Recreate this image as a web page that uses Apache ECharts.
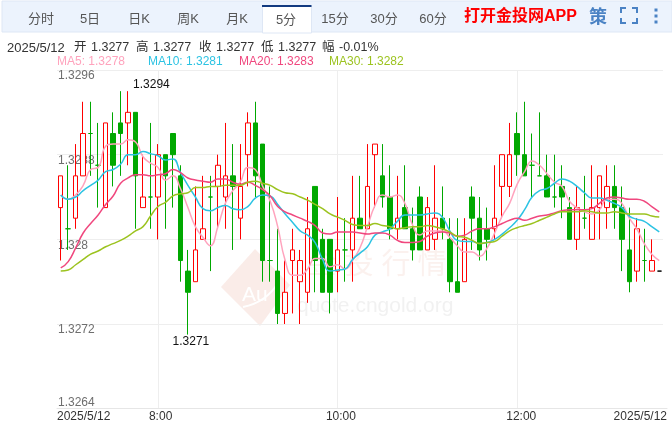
<!DOCTYPE html>
<html><head><meta charset="utf-8">
<style>html,body{margin:0;padding:0;background:#fff}#c{width:672px;height:423px}</style>
<script src="https://cdn.jsdelivr.net/npm/echarts@6/dist/echarts.min.js"></script>
</head><body><div id="c"></div>
<script>
const opens=[1.3283,1.3281,1.3282,1.3286,1.3290,1.3287,1.3283,1.3290,1.3291,1.3291,
1.3292,1.3283,1.3284,1.3284,1.3288,1.3290,1.3286,1.3277,1.3276,1.3280,
1.3284,1.3285,1.3284,1.3286,1.3282,1.3288,1.3291,1.3289,1.3278,1.3277,
1.3273,1.3278,1.3276,1.3275,1.3285,1.3280,1.3280,1.3277,1.3279,1.3279,
1.3282,1.3281,1.3288,1.3286,1.3284,1.3281,1.3283,1.3281,1.3284,1.3279,
1.3280,1.3282,1.3280,1.3276,1.3276,1.3284,1.3282,1.3281,1.3281,1.3285,
1.3285,1.3290,1.3288,1.3287,1.3286,1.3286,1.3284,1.3285,1.3283,1.3280,
1.3282,1.3280,1.3283,1.3283,1.3285,1.3283,1.3279,1.3277,1.3278,1.3277,1.3277];
const closes=[1.3286,1.3281,1.3286,1.3290,1.3290,1.3287,1.3291,1.3287,1.3290,1.3292,
1.3286,1.3284,1.3284,1.3288,1.3286,1.3288,1.3278,1.3275,1.3279,1.3281,
1.3284,1.3287,1.3286,1.3285,1.3285,1.3291,1.3286,1.3278,1.3278,1.3273,
1.3275,1.3279,1.3278,1.3281,1.3278,1.3275,1.3275,1.3279,1.3279,1.3282,
1.3281,1.3285,1.3289,1.3284,1.3281,1.3282,1.3281,1.3279,1.3279,1.3283,
1.3282,1.3281,1.3276,1.3275,1.3280,1.3282,1.3279,1.3280,1.3282,1.3288,
1.3288,1.3288,1.3286,1.3287,1.3286,1.3284,1.3284,1.3284,1.3280,1.3283,
1.3282,1.3283,1.3286,1.3285,1.3283,1.3280,1.3276,1.3281,1.3278,1.3278,1.3277];
const lows=[1.3278,1.3279,1.3281,1.3286,1.3286,1.3283,1.3283,1.3285,1.3286,1.3287,
1.3281,1.3283,1.3281,1.3280,1.3281,1.3283,1.3276,1.3271,1.3276,1.3280,
1.3277,1.3281,1.3281,1.3279,1.3280,1.3285,1.3284,1.3276,1.3276,1.3272,
1.3272,1.3273,1.3272,1.3274,1.3275,1.3275,1.3273,1.3275,1.3276,1.3276,
1.3281,1.3281,1.3283,1.3283,1.3280,1.3280,1.3281,1.3278,1.3279,1.3279,
1.3279,1.3280,1.3275,1.3275,1.3276,1.3279,1.3278,1.3278,1.3280,1.3282,
1.3284,1.3286,1.3286,1.3284,1.3286,1.3284,1.3283,1.3282,1.3280,1.3279,
1.3281,1.3280,1.3280,1.3281,1.3281,1.3277,1.3275,1.3276,1.3276,1.3277,1.3277];
const highs=[1.3286,1.3287,1.3289,1.3293,1.3293,1.3291,1.3291,1.3292,1.3294,1.3294,
1.3292,1.3288,1.3291,1.3289,1.3288,1.3290,1.3287,1.3279,1.3285,1.3286,
1.3286,1.3288,1.3291,1.3289,1.3289,1.3292,1.3293,1.3289,1.3285,1.3281,
1.3278,1.3281,1.3279,1.3284,1.3285,1.3281,1.3280,1.3284,1.3282,1.3286,
1.3286,1.3289,1.3289,1.3289,1.3287,1.3286,1.3287,1.3283,1.3285,1.3284,
1.3287,1.3285,1.3282,1.3282,1.3282,1.3285,1.3284,1.3283,1.3287,1.3288,
1.3291,1.3292,1.3293,1.3290,1.3292,1.3288,1.3288,1.3287,1.3284,1.3285,
1.3286,1.3287,1.3286,1.3287,1.3287,1.3285,1.3283,1.3282,1.3281,1.3280,1.3277];
const ma5=[1.32842,1.32838,1.32842,1.32851,1.32866,1.32868,1.32888,1.3289,1.3289,1.32894,
1.32892,1.32878,1.32872,1.32868,1.32856,1.3286,1.32848,1.3283,1.32812,1.32802,
1.32794,1.32812,1.32834,1.32846,1.32854,1.32868,1.32866,1.3285,1.32836,1.32812,
1.3278,1.32766,1.32766,1.32772,1.32782,1.32782,1.32774,1.32776,1.32772,1.3278,
1.32792,1.32812,1.32832,1.32842,1.3284,1.32842,1.32834,1.32814,1.32804,1.32808,
1.32808,1.32808,1.32802,1.32794,1.32788,1.32788,1.32784,1.32792,1.32806,1.32822,
1.32834,1.32852,1.32864,1.32874,1.3287,1.32862,1.32854,1.3285,1.32836,1.3283,
1.32826,1.32824,1.32828,1.32838,1.32838,1.32834,1.3282,1.3281,1.32796,1.32786,1.3278];
const ma10=[1.32842,1.32838,1.3284,1.32846,1.32851,1.32856,1.32864,1.32866,1.32871,1.3288,
1.3288,1.32883,1.32881,1.32879,1.32875,1.32876,1.32863,1.32851,1.3284,1.32829,
1.32827,1.3283,1.32832,1.32829,1.32828,1.32831,1.32839,1.32842,1.32841,1.32833,
1.32824,1.32816,1.32808,1.32804,1.32797,1.32781,1.3277,1.32771,1.32772,1.32781,
1.32787,1.32793,1.32804,1.32807,1.3281,1.32817,1.32823,1.32823,1.32823,1.32824,
1.32825,1.32821,1.32808,1.32799,1.32798,1.32798,1.32796,1.32797,1.328,1.32805,
1.32811,1.32818,1.32828,1.3284,1.32846,1.32848,1.32853,1.32857,1.32855,1.3285,
1.32844,1.32839,1.32839,1.32837,1.32834,1.3283,1.32822,1.32819,1.32817,1.32812,1.32807];
const ma20=[1.32773,1.32779,1.32792,1.32806,1.32815,1.32823,1.32833,1.32841,1.32853,1.32858,
1.32861,1.32861,1.3286,1.32861,1.32862,1.32866,1.32863,1.32858,1.32856,1.32855,
1.32854,1.32857,1.32857,1.32854,1.32852,1.32854,1.32851,1.32847,1.32841,1.32831,
1.32826,1.32823,1.3282,1.32817,1.32813,1.32806,1.32805,1.32807,1.32807,1.32807,
1.32806,1.32805,1.32806,1.32806,1.32804,1.32799,1.32797,1.32797,1.32798,1.32803,
1.32806,1.32807,1.32806,1.32803,1.32804,1.32808,1.3281,1.3281,1.32812,1.32815,
1.32818,1.3282,1.32818,1.3282,1.32822,1.32823,1.32825,1.32827,1.32828,1.32828,
1.32828,1.32829,1.32834,1.32839,1.3284,1.32839,1.32838,1.32838,1.32836,1.32831,1.32826];
const ma30=[1.3277,1.32771,1.32776,1.32781,1.32786,1.32789,1.32793,1.32796,1.32799,1.32803,
1.32808,1.32812,1.32822,1.32831,1.32835,1.32841,1.32843,1.32844,1.32849,1.32849,
1.3285,1.3285,1.32851,1.32851,1.32851,1.32854,1.32855,1.32853,1.32851,1.32847,
1.32844,1.32843,1.3284,1.32837,1.32833,1.32829,1.32824,1.32821,1.32818,1.32814,
1.32813,1.32813,1.32815,1.32813,1.32812,1.3281,1.32811,1.32812,1.32812,1.32813,
1.32812,1.3281,1.32807,1.32803,1.32802,1.32799,1.32796,1.32797,1.32798,1.32803,
1.32808,1.32811,1.32813,1.32815,1.32818,1.32821,1.32824,1.32826,1.32826,1.32826,
1.32827,1.32826,1.32825,1.32825,1.32826,1.32825,1.32824,1.32824,1.32824,1.32822,1.32821];
const xTickLabels=['2025/5/12','8:00','10:00','12:00','2025/5/12'];
const gridHours=[13,37,61];
const tabs=['分时','5日','日K','周K','月K','5分','15分','30分','60分'];
const infoParts=['2025/5/12','开','1.3277','高','1.3277','收','1.3277','低','1.3277','幅','-0.01%'];
const maNames=['MA5: 1.3278','MA10: 1.3281','MA20: 1.3283','MA30: 1.3282'];
const watermarkChars=['金','投','行','情'];

const FONT="'Liberation Sans','Noto Sans CJK SC',sans-serif";
const RED='#ff0000',GREEN='#00a800';
const maColors=['#ffa3bd','#2cc3e3','#f0477e','#9cc31f'];
const categories=opens.map((_,i)=>i);
const candles=opens.map((o,i)=>{
  const v=[o,closes[i],lows[i],highs[i]];
  return i===opens.length-1?{value:v,itemStyle:{color:'#000',color0:'#000',borderColor:'#000',borderColor0:'#000',borderColorDoji:'#000'}}:v;
});
const T=(text,x,y,fill,size,extra)=>({type:'text',silent:true,z:extra&&extra.z!==undefined?extra.z:10,x,y,style:Object.assign({text,fill,font:`${extra&&extra.weight||'normal'} ${size}px ${FONT}`,align:'left',verticalAlign:'middle'},extra&&extra.style)});
const tabX=[41,90,139,188,237,286,335,384,433];
const els=[
 {type:'rect',silent:true,z:1,shape:{x:2,y:1,width:670,height:31},style:{fill:'#ecf3fd',stroke:'#dee7f5',lineWidth:1}},
 {type:'rect',silent:true,z:2,shape:{x:262.5,y:6,width:49,height:27},style:{fill:'#fff',stroke:'#dee7f5',lineWidth:1}},
 {type:'rect',silent:true,z:3,shape:{x:262,y:5,width:49.5,height:2},style:{fill:'#123a80'}},
];
tabs.forEach((t,i)=>els.push(T(t,tabX[i],i===5?20:19,'#555',13,{style:{align:'center'}})));
els.push(T('打开金投网APP',464,17,'#ff0000',16,{weight:'bold'}));
els.push(T('策',598,18,'#4a82c4',18,{weight:'bold',style:{align:'center'}}));
[[621,13,621,8,626,8],[632,8,637,8,637,13],[621,18,621,23,626,23],[632,23,637,23,637,18]].forEach(p=>els.push({type:'polyline',silent:true,z:10,shape:{points:[[p[0],p[1]],[p[2],p[3]],[p[4],p[5]]]},style:{stroke:'#4a82c4',lineWidth:2,fill:null}}));
[10,16,22].forEach(y=>els.push({type:'rect',silent:true,z:10,shape:{x:654.5,y:y-1.5,width:3,height:3},style:{fill:'#4a82c4'}}));
const infoX=[7,74,91,136,153,199,216,261,278,322,339];
infoParts.forEach((t,i)=>els.push(T(t,infoX[i],48,'#333',i===0?13:12.5)));
[57,148,239,329].forEach((x,i)=>els.push(T(maNames[i],x,62,maColors[i],12)));
// watermark
els.push({type:'polygon',silent:true,z:0,shape:{points:[[221,287],[255,249],[290,285],[260,326]]},style:{fill:'rgba(232,170,150,0.22)'}});
els.push({type:'bezierCurve',silent:true,z:0,shape:{x1:243,y1:307,x2:278,y2:283,cpx1:258,cpy1:304,cpx2:270,cpy2:296},style:{stroke:'#fff',lineWidth:2,fill:null}});
els.push(T('Au',242,295,'#fff',21,{z:0}));
[322,359,396,432].forEach((x,i)=>els.push(T(watermarkChars[i],x,266,'rgba(232,170,150,0.16)',29,{z:0,style:{align:'center'}})));
els.push(T('quote.cngold.org',297,306,'rgba(190,190,190,0.22)',21,{z:0}));

const chart=echarts.init(document.getElementById('c'),null,{renderer:'canvas'});
const lineS=(name,data,c)=>({name,type:'line',data,smooth:true,showSymbol:false,symbol:'none',z:5,lineStyle:{color:c,width:1.5},silent:true});
const tickSlots=[-0.5,13.35,37.45,61.55,81.03];
chart.setOption({
 animation:false,backgroundColor:'#fff',textStyle:{fontFamily:FONT},
 graphic:{elements:els},
 grid:[{left:57,right:9,top:70,bottom:14.3},{left:57,right:5,top:70,bottom:14.3}],
 xAxis:[
  {type:'category',data:categories,gridIndex:0,boundaryGap:true,axisLine:{show:false},axisTick:{show:false},axisLabel:{show:false},
   splitLine:{show:true,alignWithLabel:true,interval:i=>gridHours.includes(i),lineStyle:{color:'#eee',width:1}}},
  {type:'value',gridIndex:1,min:-0.5,max:81.03,axisLine:{show:true,lineStyle:{color:'#e6e6e6'}},axisTick:{show:false},splitLine:{show:false},
   axisLabel:{show:true,color:'#333',fontSize:12,margin:2,verticalAlign:'top',alignMinLabel:'left',alignMaxLabel:'right',
     customValues:tickSlots,
     formatter:v=>xTickLabels[tickSlots.indexOf(v)]||''}}
 ],
 yAxis:[
  {type:'value',gridIndex:0,min:1.3264,max:1.3296,interval:0.0008,axisLine:{show:false},axisTick:{show:false},
   splitLine:{show:true,lineStyle:{color:'#eee',width:1}},
   axisLabel:{inside:true,margin:1,color:'#6e6e6e',fontSize:12,align:'left',verticalAlign:'top',verticalAlignMinLabel:'bottom',formatter:v=>String(+(+v).toFixed(4))}},
  {type:'value',gridIndex:1,min:0,max:1,show:false}
 ],
 series:[
  {type:'candlestick',xAxisIndex:0,yAxisIndex:0,data:candles,barWidth:5,z:3,silent:true,
   itemStyle:{color:'#fff',color0:GREEN,borderColor:RED,borderColor0:GREEN,borderColorDoji:GREEN,borderWidth:1},
   markPoint:{symbol:'circle',symbolSize:0,silent:true,z:8,animation:false,
    data:[
     {coord:[9,1.3294],label:{formatter:'1.3294',show:true,color:'#111',fontSize:12,position:'inside',align:'left',verticalAlign:'middle',offset:[5,-6]}},
     {coord:[17,1.3271],label:{formatter:'1.3271',show:true,color:'#111',fontSize:12,position:'inside',align:'center',verticalAlign:'middle',offset:[3,7]}}
    ]}},
  lineS('MA5',ma5,maColors[0]),lineS('MA10',ma10,maColors[1]),lineS('MA20',ma20,maColors[2]),lineS('MA30',ma30,maColors[3])
 ]
});
</script></body></html>
